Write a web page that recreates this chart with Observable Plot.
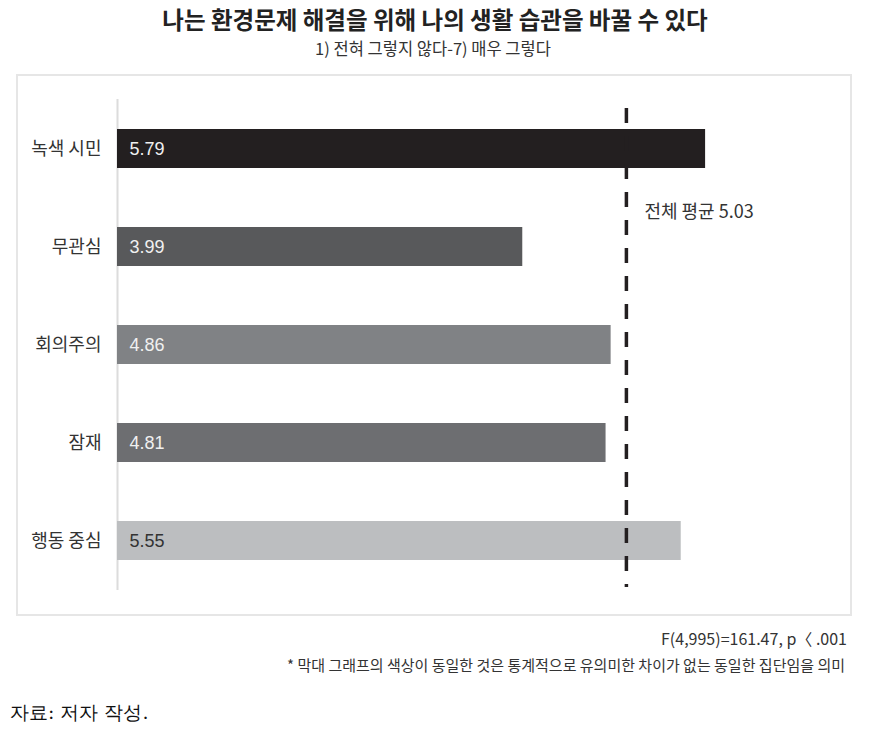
<!DOCTYPE html>
<html>
<head>
<meta charset="utf-8">
<script src="https://cdn.jsdelivr.net/npm/d3@7"></script>
<script src="https://cdn.jsdelivr.net/npm/@observablehq/plot@0.6"></script>
<style>
  html, body { margin: 0; padding: 0; background: #fff; }
  body { width: 872px; height: 734px; position: relative; font-family: "Noto Sans CJK KR", "Noto Sans", sans-serif; color: #333; }
  .abs { position: absolute; white-space: nowrap; }
  #title { left: 0; width: 870px; text-align: center; top: 4.5px; font-size: 23.5px; line-height: 28px; font-weight: bold; color: #222; }
  #subtitle { left: 0; width: 866px; text-align: center; top: 37.5px; font-size: 16.5px; line-height: 20px; color: #333; }
  #box { left: 16px; top: 74px; width: 832px; height: 538px; border: 2px solid #e6e6e6; }
  #box svg { display: block; }
  #stat { right: 25px; top: 628px; font-size: 16px; line-height: 20px; color: #333; }
  #note { right: 27px; top: 655px; font-size: 15px; line-height: 19px; color: #333; }
  #source { left: 10px; top: 700px; font-size: 19px; line-height: 24px; color: #111; font-family: "DejaVu Serif", serif; }
</style>
</head>
<body>
<div id="title" class="abs"></div>
<div id="subtitle" class="abs"></div>
<div id="box" class="abs"></div>
<div id="stat" class="abs"></div>
<div id="note" class="abs"></div>
<div id="source" class="abs"></div>
<script>
// ---- data ----
const titleText = "나는 환경문제 해결을 위해 나의 생활 습관을 바꿀 수 있다";
const subtitleText = "1) 전혀 그렇지 않다-7) 매우 그렇다";
const categories = ["녹색 시민", "무관심", "회의주의", "잠재", "행동 중심"];
const values = [5.79, 3.99, 4.86, 4.81, 5.55];
const barColors = ["#231f20", "#58595b", "#808285", "#6d6e71", "#bcbec0"];
const valueLabelColors = ["#f0f0f0", "#f0f0f0", "#f0f0f0", "#f0f0f0", "#333333"];
const overallMean = 5.03;
const meanLabel = "전체 평균";
const xDomain = [0, 7];
const statText = "F(4,995)=161.47, p〈 .001";
const noteText = "* 막대 그래프의 색상이 동일한 것은 통계적으로 유의미한 차이가 없는 동일한 집단임을 의미";
const sourceText = "자료: 저자 작성.";

document.getElementById("title").textContent = titleText;
document.getElementById("subtitle").textContent = subtitleText;
document.getElementById("stat").textContent = statText;
document.getElementById("note").textContent = noteText;
document.getElementById("source").textContent = sourceText;

const rows = categories.map((c, i) => ({group: c, value: values[i], fill: barColors[i], labelFill: valueLabelColors[i]}));
const meanRow = [{x: overallMean, y: categories[0], t: meanLabel + " " + overallMean.toFixed(2)}];

const chart = Plot.plot({
  width: 832,
  height: 538,
  marginLeft: 99,
  marginRight: 22,
  marginTop: 23,
  marginBottom: 24,
  style: {fontFamily: "'Noto Sans CJK KR', sans-serif", fontSize: "18px", color: "#333", background: "transparent"},
  x: {domain: xDomain, axis: null},
  y: {domain: categories, paddingInner: 0.6, paddingOuter: 0.3, label: null, tickSize: 0, tickPadding: 16},
  color: {type: "identity"},
  marks: [
    Plot.ruleX([0], {stroke: "#dcdcdc", strokeWidth: 2}),
    Plot.barX(rows, {x: "value", y: "group", fill: "fill"}),
    Plot.ruleX([overallMean], {stroke: "#231f20", strokeWidth: 3.5, strokeDasharray: "15,13", insetTop: 9, insetBottom: 3, dx: -2}),
    Plot.text(rows, {x: 0, y: "group", text: d => d.value.toFixed(2), fill: "labelFill", textAnchor: "start", dx: 12, fontSize: 18, fontFamily: "'Liberation Sans', Arial, sans-serif"}),
    Plot.text(meanRow, {x: "x", y: "y", text: "t", textAnchor: "start", dx: 16, dy: 63, fontSize: 18, fill: "#333"})
  ]
});
document.getElementById("box").appendChild(chart);
</script>
</body>
</html>
